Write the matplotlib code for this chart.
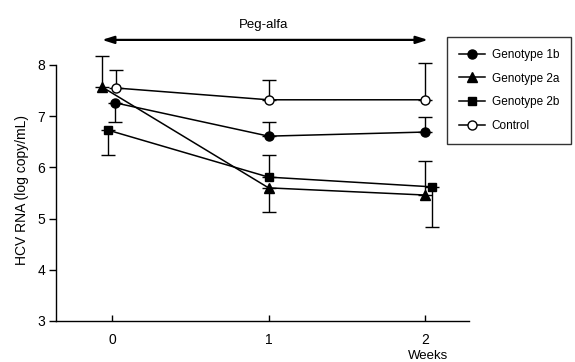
"""HCV RNA levels by genotype during Peg-alfa treatment."""

import matplotlib

matplotlib.use("Agg")

import matplotlib.pyplot as plt
from matplotlib.lines import Line2D

plt.rcParams["font.family"] = ["Liberation Sans", "DejaVu Sans"]

weeks = [0, 1, 2]
series_names = ["Genotype 1b", "Genotype 2a", "Genotype 2b", "Control"]

g1b_mean = [7.26, 6.61, 6.69]
g1b_err_low = [0.37, 0.0, 0.0]
g1b_err_high = [0.0, 0.28, 0.29]

g2a_mean = [7.57, 5.60, 5.46]
g2a_err_low = [0.0, 0.47, 0.0]
g2a_err_high = [0.61, 0.0, 0.66]

g2b_mean = [6.73, 5.81, 5.62]
g2b_err_low = [0.49, 0.0, 0.78]
g2b_err_high = [0.0, 0.43, 0.0]

ctrl_mean = [7.55, 7.32, 7.32]
ctrl_err_low = [0.0, 0.0, 0.0]
ctrl_err_high = [0.35, 0.39, 0.72]

# small horizontal shifts so overlapping symbols stay visible
SHIFT = {
    "Genotype 1b": [0.02, 0.0, 0.0],
    "Genotype 2a": [-0.065, 0.0, 0.0],
    "Genotype 2b": [-0.03, 0.0, 0.045],
    "Control": [0.025, 0.0, 0.0],
}
STYLE = {
    "Genotype 1b": dict(marker="o", markersize=6.5, markerfacecolor="black"),
    "Genotype 2a": dict(marker="^", markersize=7.5, markerfacecolor="black"),
    "Genotype 2b": dict(marker="s", markersize=6, markerfacecolor="black"),
    "Control": dict(marker="o", markersize=6.5, markerfacecolor="white"),
}

data = {
    "Genotype 1b": (g1b_mean, g1b_err_low, g1b_err_high),
    "Genotype 2a": (g2a_mean, g2a_err_low, g2a_err_high),
    "Genotype 2b": (g2b_mean, g2b_err_low, g2b_err_high),
    "Control": (ctrl_mean, ctrl_err_low, ctrl_err_high),
}

fig = plt.figure(figsize=(5.75, 3.62), dpi=100)
ax = fig.add_axes([0.0974, 0.1133, 0.7176, 0.7072])

for name in series_names:
    mean, lo, hi = data[name]
    xs = [w + s for w, s in zip(weeks, SHIFT[name])]
    ax.errorbar(xs, mean, yerr=[lo, hi], fmt="none", ecolor="black",
                elinewidth=1.0, capsize=5, capthick=1.0, zorder=2, clip_on=False)
    ax.plot(xs, mean, color="black", linewidth=1.1, markeredgecolor="black",
            markeredgewidth=1.0, zorder=3, clip_on=False, **STYLE[name])

ax.set_xlim(-0.36, 2.28)
ax.set_ylim(3, 8)
ax.set_xticks(weeks)
ax.set_yticks([3, 4, 5, 6, 7, 8])
ax.spines["top"].set_visible(False)
ax.spines["right"].set_visible(False)
ax.spines["left"].set_linewidth(1.0)
ax.spines["bottom"].set_linewidth(1.0)
ax.tick_params(axis="y", direction="out", length=5, width=1.0, labelsize=10, pad=3)
ax.tick_params(axis="x", direction="in", length=4, width=1.0, labelsize=10, pad=9)

ax.annotate("", xy=(2.02, 1.098), xytext=(-0.066, 1.098),
            xycoords=("data", "axes fraction"), textcoords=("data", "axes fraction"),
            arrowprops=dict(arrowstyle="<|-|>,head_length=0.7,head_width=0.22",
                            color="black", lw=1.6, shrinkA=0, shrinkB=0),
            annotation_clip=False)
ax.text(0.966, 1.156, "Peg-alfa", transform=ax.get_xaxis_transform(),
        ha="center", va="center", fontsize=9.5)

fig.text(22 / 575, 1 - 190 / 362, "HCV RNA (log copy/mL)", rotation=90,
         ha="center", va="center", fontsize=10)
fig.text(428 / 575, 1 - 356 / 362, "Weeks", ha="center", va="center", fontsize=9.5)

handles = [
    Line2D([], [], color="black", linewidth=1.1, markeredgecolor="black", **STYLE[name])
    for name in series_names
]
leg = fig.legend(handles, series_names, loc="upper left",
                 bbox_to_anchor=(447 / 575, 1 - 37 / 362), fontsize=8.5,
                 frameon=True, fancybox=False, edgecolor="black",
                 handlelength=2.2, handletextpad=0.6, labelspacing=1.0,
                 borderpad=1.0, borderaxespad=0)
leg.get_frame().set_linewidth(1.0)

fig.savefig("out.png", dpi=100)
